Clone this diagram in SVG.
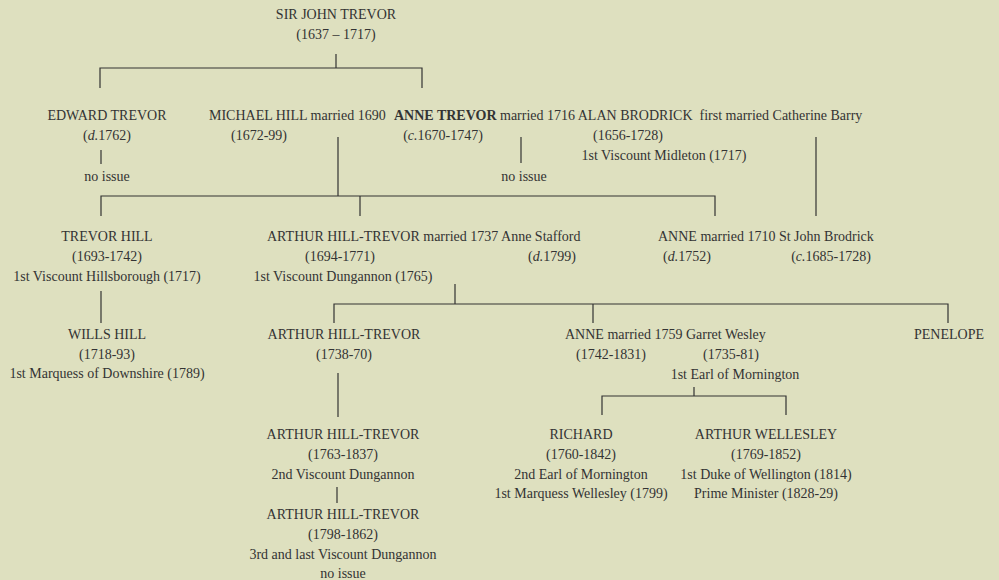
<svg xmlns="http://www.w3.org/2000/svg" width="999" height="580" viewBox="0 0 999 580">
<style>
text{font-family:"Liberation Serif","DejaVu Serif",serif;font-size:14px;fill:#333;white-space:pre}
.c{text-anchor:middle}
.b{font-weight:bold}
.conn path{fill:none;stroke:#333;stroke-width:1.2}
</style>
<rect width="999" height="580" fill="#dee0bf"/>
<g class="conn">
<path d="M336 54V68M100 88V68H422V88"/>
<path d="M101 150V164"/>
<path d="M338 137V196M101 216V196H715V216M360 196V216"/>
<path d="M521 137V163"/>
<path d="M816 137V216"/>
<path d="M101 291V323"/>
<path d="M455 284V304M334 323V304H948V323M593 304V323"/>
<path d="M338 373V417"/>
<path d="M337 487V503"/>
<path d="M694 387V396M602 415V396H786V415"/>
</g>
<g id="john"><text class="c" x="336" y="19">SIR JOHN TREVOR</text><text class="c" x="336" y="39">(1637 – 1717)</text></g>
<g id="edward"><text class="c" x="107" y="120">EDWARD TREVOR</text><text class="c" x="107" y="140">(<tspan font-style="italic">d.</tspan>1762)</text><text class="c" x="107" y="181">no issue</text></g>
<g id="michael"><text x="209" y="120">MICHAEL HILL married 1690</text><text class="c" x="259" y="140">(1672-99)</text></g>
<g id="anne-trevor"><text class="b" x="394" y="120">ANNE TREVOR</text><text class="c" x="443" y="140">(<tspan font-style="italic">c.</tspan>1670-1747)</text><text class="c" x="524" y="181">no issue</text></g>
<g id="alan"><text x="500" y="120">married 1716 ALAN BRODRICK  first married Catherine Barry</text><text class="c" x="628" y="140">(1656-1728)</text><text class="c" x="664" y="160">1st Viscount Midleton (1717)</text></g>
<g id="trevor-hill"><text class="c" x="107" y="241">TREVOR HILL</text><text class="c" x="107" y="261">(1693-1742)</text><text class="c" x="107" y="281">1st Viscount Hillsborough (1717)</text></g>
<g id="arthur1"><text x="267" y="241">ARTHUR HILL-TREVOR married 1737 Anne Stafford</text><text class="c" x="340" y="261">(1694-1771)</text><text class="c" x="552" y="261">(<tspan font-style="italic">d.</tspan>1799)</text><text class="c" x="343" y="281">1st Viscount Dungannon (1765)</text></g>
<g id="anne-1710"><text x="658" y="241">ANNE married 1710 St John Brodrick</text><text class="c" x="687" y="261">(<tspan font-style="italic">d.</tspan>1752)</text><text class="c" x="831" y="261">(<tspan font-style="italic">c.</tspan>1685-1728)</text></g>
<g id="wills"><text class="c" x="107" y="339">WILLS HILL</text><text class="c" x="107" y="359">(1718-93)</text><text class="c" x="107" y="378">1st Marquess of Downshire (1789)</text></g>
<g id="arthur2"><text class="c" x="344" y="339">ARTHUR HILL-TREVOR</text><text class="c" x="344" y="359">(1738-70)</text></g>
<g id="anne-1759"><text x="565" y="339">ANNE married 1759 Garret Wesley</text><text class="c" x="611" y="359">(1742-1831)</text><text class="c" x="731" y="359">(1735-81)</text><text class="c" x="735" y="379">1st Earl of Mornington</text></g>
<g id="penelope"><text class="c" x="949" y="339">PENELOPE</text></g>
<g id="arthur3"><text class="c" x="343" y="439">ARTHUR HILL-TREVOR</text><text class="c" x="343" y="459">(1763-1837)</text><text class="c" x="343" y="479">2nd Viscount Dungannon</text></g>
<g id="arthur4"><text class="c" x="343" y="519">ARTHUR HILL-TREVOR</text><text class="c" x="343" y="539">(1798-1862)</text><text class="c" x="343" y="559">3rd and last Viscount Dungannon</text><text class="c" x="343" y="578">no issue</text></g>
<g id="richard"><text class="c" x="581" y="439">RICHARD</text><text class="c" x="581" y="459">(1760-1842)</text><text class="c" x="581" y="479">2nd Earl of Mornington</text><text class="c" x="581" y="498">1st Marquess Wellesley (1799)</text></g>
<g id="wellesley"><text class="c" x="766" y="439">ARTHUR WELLESLEY</text><text class="c" x="766" y="459">(1769-1852)</text><text class="c" x="766" y="479">1st Duke of Wellington (1814)</text><text class="c" x="766" y="498">Prime Minister (1828-29)</text></g>
</svg>
